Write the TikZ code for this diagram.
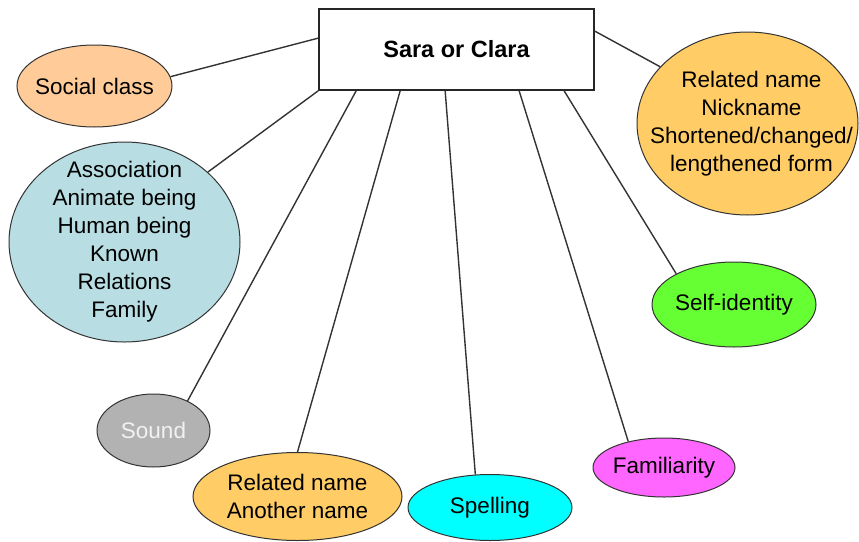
\documentclass[tikz,border=0pt]{standalone}
\usepackage{fontspec}
\setmainfont{Liberation Sans}
\usetikzlibrary{shapes.geometric}

\definecolor{peach}{HTML}{FFCC99}
\definecolor{paleblue}{HTML}{B8DEE3}
\definecolor{gold}{HTML}{FFCC66}
\definecolor{lime}{HTML}{66FF33}
\definecolor{stone}{HTML}{B2B2B2}
\definecolor{aqua}{HTML}{00FFFF}
\definecolor{orchid}{HTML}{FF66FF}

\tikzset{
  bubble/.style={ellipse, draw=black!80, line width=1pt, inner sep=0pt},
  caption/.style={align=center, inner sep=0pt, font=\fontsize{22.5}{28}\selectfont},
  link/.style={draw=black!80, line width=1.4pt},
  titlebox/.style={draw=black!85, line width=1.7pt, fill=white,
    minimum width=275pt, minimum height=81pt, inner sep=0pt,
    font=\fontsize{23.5}{28}\selectfont\bfseries}
}

\begin{document}
\begin{tikzpicture}[x=1pt, y=-1pt]
\useasboundingbox (0,0) rectangle (859,541);

% central box
\node[titlebox] (box) at (456.5,49.5) {Sara or Clara};

% surrounding ellipses
\node[bubble, fill=peach, minimum width=155pt, minimum height=82pt] (social) at (94.5,86) {};
\node[caption] at (social) {Social class};

\node[bubble, fill=paleblue, minimum width=231pt, minimum height=200pt] (assoc) at (124.5,242) {};
\node[caption] at (assoc) {Association\\Animate being\\Human being\\Known\\Relations\\Family};

\node[bubble, fill=gold, minimum width=221pt, minimum height=183pt] (nick) at (747.5,123.5) {};
\node[caption] at ([xshift=4pt]nick.center) {Related name\\Nickname\\Shortened/changed/\\lengthened form};

\node[bubble, fill=lime, minimum width=164pt, minimum height=85pt] (self) at (734,304.5) {};
\node[caption] at (self) {Self-identity};

\node[bubble, fill=stone, minimum width=113pt, minimum height=73pt] (sound) at (153.5,430.5) {};
\node[caption, text=white!95!black] at (sound) {Sound};

\node[bubble, fill=gold, minimum width=209pt, minimum height=88pt] (another) at (297.5,496.5) {};
\node[caption] at (another) {Related name\\Another name};

\node[bubble, fill=aqua, minimum width=164pt, minimum height=66pt] (spell) at (490,507.5) {};
\node[caption] at (spell) {Spelling};

\node[bubble, fill=orchid, minimum width=142pt, minimum height=59pt] (famil) at (664,467.5) {};
\node[caption] at (famil) {Familiarity};

% connectors from the box to each ellipse
\path[link] ([yshift=-30pt]box.north west) -- (social.7);
\path[link] (box.south west) -- (assoc.40);
\path[link] ([xshift=38pt]box.south west) -- (sound.41);
\path[link] ([xshift=82pt]box.south west) -- (another.90);
\path[link] ([xshift=127pt]box.south west) -- (spell.114);
\path[link] ([xshift=201pt]box.south west) -- (famil.144);
\path[link] ([xshift=246pt]box.south west) -- (self.152);
\path[link] ([yshift=-23pt]box.north east) -- (nick.147);
\end{tikzpicture}
\end{document}
